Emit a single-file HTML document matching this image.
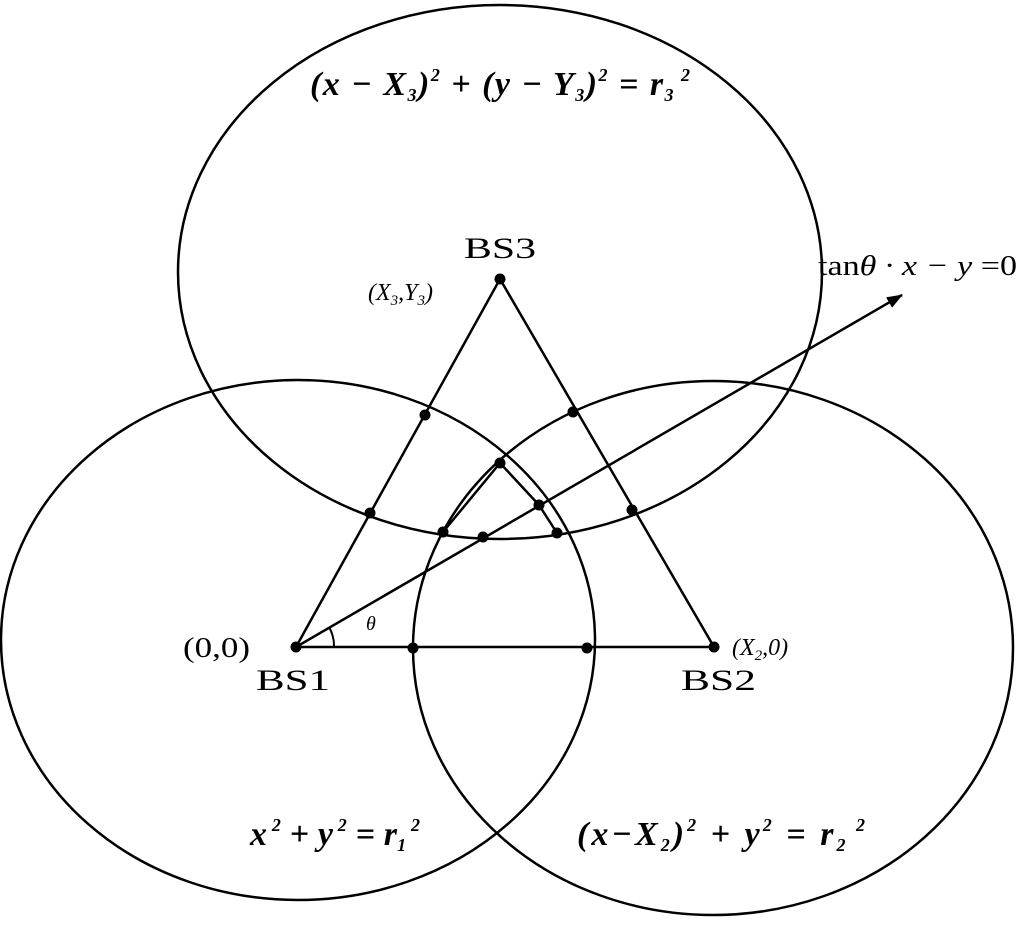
<!DOCTYPE html>
<html><head><meta charset="utf-8"><style>
html,body{margin:0;padding:0;background:#fff}
svg{display:block}
text{font-family:"Liberation Serif",serif;fill:#000}
</style></head><body>
<svg width="1024" height="925" viewBox="0 0 1024 925" xmlns="http://www.w3.org/2000/svg">
<defs><marker id="a" markerWidth="16" markerHeight="12" refX="15" refY="6" orient="auto" markerUnits="userSpaceOnUse"><path d="M0,0 L16,6 L0,12 Z" fill="#000"/></marker></defs>
<g fill="none" stroke="#000" stroke-width="2.5">
<ellipse cx="298" cy="640" rx="297" ry="260"/>
<ellipse cx="713" cy="648" rx="300" ry="267"/>
<ellipse cx="500" cy="272" rx="322" ry="267"/>
<polygon points="296,647 714,647 500,279"/>
<line x1="296" y1="647" x2="902" y2="295" marker-end="url(#a)"/>
<path d="M334,647 A38,38 0 0 0 329,627" stroke-width="2"/>
<polyline points="443,532 500,463 539,505 557,533" stroke-width="2.5"/>
</g>
<g fill="#000">
<circle cx="296" cy="647" r="5.5"/><circle cx="714" cy="647" r="5.5"/><circle cx="500" cy="279" r="5.5"/>
<circle cx="425" cy="415" r="5.5"/><circle cx="573" cy="412" r="5.5"/><circle cx="500" cy="463" r="5.5"/>
<circle cx="370" cy="513" r="5.5"/><circle cx="539" cy="505" r="5.5"/><circle cx="632" cy="510" r="5.5"/>
<circle cx="443" cy="532" r="5.5"/><circle cx="483" cy="537" r="5.5"/><circle cx="557" cy="533" r="5.5"/>
<circle cx="413" cy="648" r="5.5"/><circle cx="587" cy="648" r="5.5"/>
</g>
<text x="464" y="258" font-size="30" textLength="72" lengthAdjust="spacingAndGlyphs">BS3</text>
<text x="368" y="300" font-size="24" font-style="italic">(X<tspan font-size="15" dy="5">3</tspan><tspan dy="-5">,Y</tspan><tspan font-size="15" dy="5">3</tspan><tspan dy="-5">)</tspan></text>
<text x="183" y="657" font-size="29" textLength="67" lengthAdjust="spacingAndGlyphs">(0,0)</text>
<text x="256" y="690" font-size="30" textLength="74" lengthAdjust="spacingAndGlyphs">BS1</text>
<text x="732" y="655" font-size="24" font-style="italic">(X<tspan font-size="15" dy="5">2</tspan><tspan dy="-5">,0)</tspan></text>
<text x="681" y="690" font-size="30" textLength="75" lengthAdjust="spacingAndGlyphs">BS2</text>
<text x="366" y="630" font-size="20" font-style="italic">θ</text>
<text x="818" y="275" font-size="29" textLength="199" lengthAdjust="spacingAndGlyphs">tan<tspan font-style="italic">θ · x − y </tspan>=0</text>
<text x="310" y="95" font-size="34" font-style="italic" font-weight="bold" textLength="380" lengthAdjust="spacing">(x − X<tspan font-size="18" dy="6">3</tspan><tspan dy="-6">)</tspan><tspan font-size="18" dy="-14">2</tspan><tspan dy="14"> + (y − Y</tspan><tspan font-size="18" dy="6">3</tspan><tspan dy="-6">)</tspan><tspan font-size="18" dy="-14">2</tspan><tspan dy="14"> = r</tspan><tspan font-size="18" dy="6">3</tspan><tspan font-size="18" dy="-20"> 2</tspan></text>
<text x="250" y="845" font-size="34" font-style="italic" font-weight="bold" textLength="170" lengthAdjust="spacing">x<tspan font-size="18" dy="-14"> 2</tspan><tspan dy="14"> + y</tspan><tspan font-size="18" dy="-14"> 2</tspan><tspan dy="14"> = r</tspan><tspan font-size="18" dy="6">1</tspan><tspan font-size="18" dy="-20"> 2</tspan></text>
<text x="577" y="845" font-size="34" font-style="italic" font-weight="bold" textLength="288" lengthAdjust="spacing">(x−X<tspan font-size="18" dy="6">2</tspan><tspan dy="-6">)</tspan><tspan font-size="18" dy="-14">2</tspan><tspan dy="14"> + y</tspan><tspan font-size="18" dy="-14">2</tspan><tspan dy="14"> = r</tspan><tspan font-size="18" dy="6">2</tspan><tspan font-size="18" dy="-20"> 2</tspan></text>
</svg>
</body></html>
